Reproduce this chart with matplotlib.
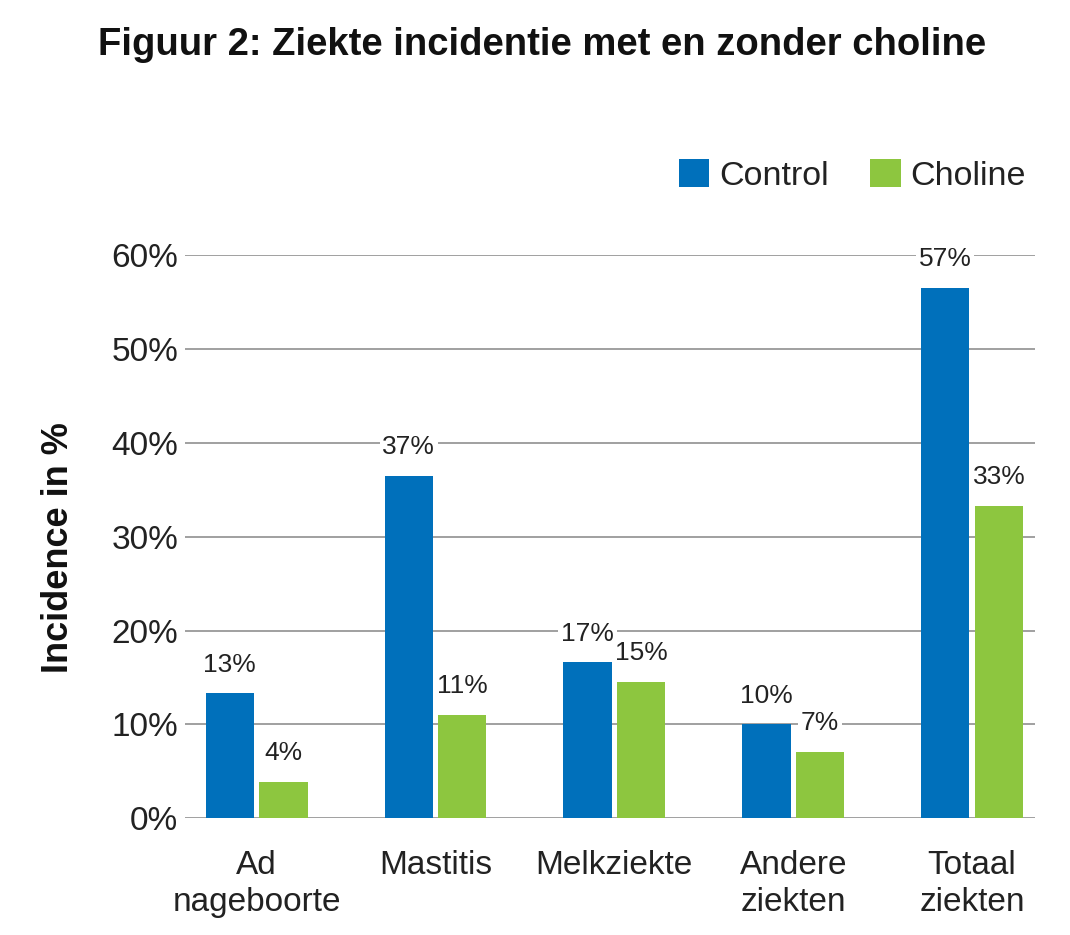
import matplotlib
matplotlib.use("Agg")
import matplotlib.pyplot as plt
import numpy as np

categories = ["Ad\nnageboorte", "Mastitis", "Melkziekte", "Andere\nziekten", "Totaal\nziekten"]
control = [13.3, 36.5, 16.6, 10.0, 56.5]
choline = [3.9, 11.0, 14.5, 7.1, 33.3]
control_labels = ["13%", "37%", "17%", "10%", "57%"]
choline_labels = ["4%", "11%", "15%", "7%", "33%"]
yticks = [0, 10, 20, 30, 40, 50, 60]

blue = '#0070bb'
green = '#8dc63f'

plt.rcParams['font.family'] = ['Liberation Sans', 'DejaVu Sans']

fig = plt.figure(figsize=(10.7, 9.35), dpi=100)
ax = fig.add_axes([0.173, 0.125, 0.794, 0.602])

x = np.arange(len(categories))
w = 0.27
gap = 0.015
b1 = ax.bar(x - w / 2 - gap, control, w, color=blue, label='Control', zorder=3)
b2 = ax.bar(x + w / 2 + gap, choline, w, color=green, label='Choline', zorder=3)

for bars, labs in [(b1, control_labels), (b2, choline_labels)]:
    for b, lab in zip(bars, labs):
        ax.annotate(lab, (b.get_x() + b.get_width() / 2, b.get_height()),
                    xytext=(0, 12), textcoords='offset points', ha='center', va='bottom',
                    fontsize=19, color='#222222', zorder=4, annotation_clip=False,
                    bbox=dict(boxstyle='square,pad=0.1', fc='white', ec='none'))

ax.set_xlim(-0.40, 4.35)
ax.set_ylim(0, 60)
ax.set_yticks(yticks)
ax.set_yticklabels([str(t) + '%' for t in yticks])
ax.set_xticks(x)
ax.set_xticklabels(categories, linespacing=1.25)
ax.tick_params(axis='both', length=0, labelsize=24, labelcolor='#222222')
ax.tick_params(axis='y', pad=5)
ax.tick_params(axis='x', pad=23)
ax.yaxis.grid(True, color='#999999', lw=1.3, zorder=0)
for s in ax.spines.values():
    s.set_visible(False)

ax.set_ylabel("Incidence in %", fontsize=26, fontweight='bold', color='#111111')
ax.yaxis.set_label_coords(-0.128, 0.481)

fig.text(0.507, 0.952, "Figuur 2: Ziekte incidentie met en zonder choline",
         ha='center', va='center', fontsize=27.5, fontweight='bold', color='#111111')

fig.legend(handles=[b1, b2], loc='upper right', bbox_to_anchor=(0.975, 0.848),
           frameon=False, fontsize=24.5, ncol=2, handlelength=0.9, handleheight=0.9,
           handletextpad=0.3, columnspacing=1.2, borderpad=0, labelcolor='#222222')

fig.savefig('out.png', dpi=100)
